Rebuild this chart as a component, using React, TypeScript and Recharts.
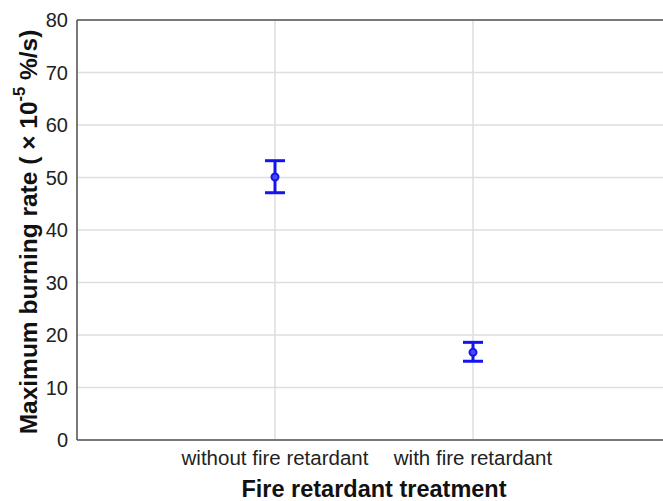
import { CartesianGrid, ErrorBar, ReferenceLine, Scatter, ScatterChart, XAxis, YAxis } from "recharts";

const categories = ["without fire retardant", "with fire retardant"];
const means = [50.1, 16.7];
const upper = [53.2, 18.6];
const lower = [47.1, 15.0];
const yTicks = [0, 10, 20, 30, 40, 50, 60, 70, 80];

const data = categories.map((name, i) => ({
  pos: i + 1,
  name,
  value: means[i],
  err: [+(means[i] - lower[i]).toFixed(2), +(upper[i] - means[i]).toFixed(2)],
}));

const FONT = "'Liberation Sans', Arial, sans-serif";
const BLUE = "#1414f0";
const AXIS = "#555";

const Dot = (props: any) => {
  const { cx, cy } = props;
  return <circle cx={cx} cy={cy} r={3.5} fill="#4a4af5" stroke={BLUE} strokeWidth={2} />;
};

const YLabel = (props: any) => {
  const vb = props.viewBox || {};
  const cy = vb.y + vb.height / 2 + 2;
  return (
    <text
      x={28}
      y={cy}
      transform={`rotate(-90, 28, ${cy})`}
      textAnchor="middle"
      dominantBaseline="central"
      fontFamily={FONT}
      fontWeight="bold"
      fontSize={24.5}
      fill="#111"
    >
      Maximum burning rate ( × 10
      <tspan dy={-9} fontSize={16.5}>-5</tspan>
      <tspan dy={9}> %/s)</tspan>
    </text>
  );
};

const XLabel = (props: any) => {
  const vb = props.viewBox || {};
  return (
    <text
      x={vb.x + vb.width / 2}
      y={497}
      textAnchor="middle"
      fontFamily={FONT}
      fontWeight="bold"
      fontSize={23.5}
      fill="#111"
    >
      Fire retardant treatment
    </text>
  );
};

export default function App() {
  return (
    <div style={{ position: "absolute", left: 0, top: 0, width: 663, height: 501, overflow: "hidden", background: "#fff" }}>
      <ScatterChart width={680} height={501} margin={{ top: 20, right: 9, left: 0, bottom: 0 }}>
        <CartesianGrid stroke="#dedede" strokeWidth={1.5} />
        <XAxis
          type="number"
          dataKey="pos"
          domain={[0, 3]}
          ticks={[1, 2]}
          tickFormatter={(v: number) => categories[v - 1]}
          height={61}
          stroke={AXIS}
          strokeWidth={1.5}
          tickLine={false}
          tick={{ fontFamily: FONT, fontSize: 20.5, fill: "#222" }}
          tickMargin={4}
          label={<XLabel />}
        />
        <YAxis
          type="number"
          dataKey="value"
          domain={[0, 80]}
          ticks={yTicks}
          width={77}
          stroke={AXIS}
          strokeWidth={1.5}
          tickLine={false}
          tick={{ fontFamily: FONT, fontSize: 20, fill: "#222" }}
          tickMargin={3}
          label={<YLabel />}
        />
        <ReferenceLine y={80} stroke={AXIS} strokeWidth={1.5} />
        <Scatter data={data} shape={<Dot />} isAnimationActive={false}>
          <ErrorBar dataKey="err" direction="y" width={10} stroke={BLUE} strokeWidth={3} />
        </Scatter>
      </ScatterChart>
    </div>
  );
}
